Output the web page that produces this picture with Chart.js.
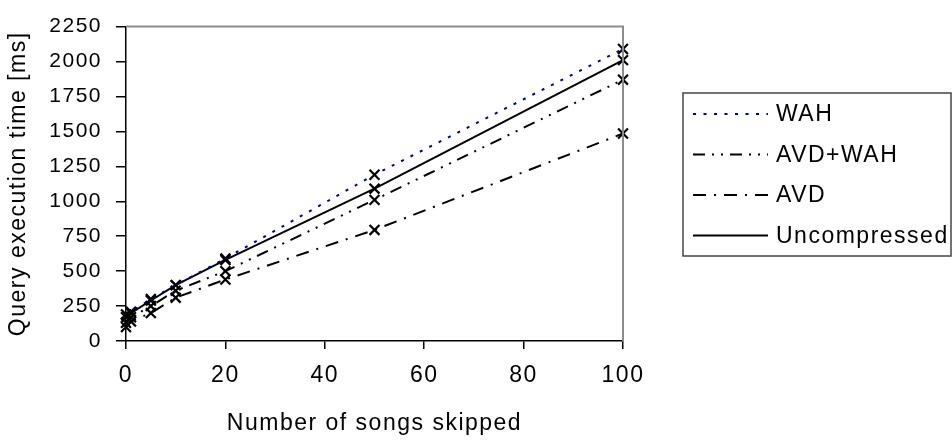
<!DOCTYPE html>
<html>
<head>
<meta charset="utf-8">
<script src="https://cdn.jsdelivr.net/npm/chart.js@4/dist/chart.umd.min.js"></script>
<style>
  html, body { margin: 0; padding: 0; background: #fff; }
  #wrap { width: 952px; height: 443px; }
</style>
</head>
<body>
<div id="wrap"><canvas id="chart"></canvas></div>
<script>
// values
const skipped = [0, 1, 5, 10, 20, 50, 100];
const wah = [190, 210, 300, 400, 590, 1190, 2090];
const avdWah = [130, 170, 250, 360, 500, 1010, 1870];
const avd = [100, 140, 200, 310, 440, 795, 1485];
const uncompressed = [170, 200, 290, 400, 580, 1090, 2010];
const seriesNames = ['WAH', 'AVD+WAH', 'AVD', 'Uncompressed'];
const xTicks = [0, 20, 40, 60, 80, 100];
const yTicks = [0, 250, 500, 750, 1000, 1250, 1500, 1750, 2000, 2250];

const FONT = '"Liberation Sans", Arial, sans-serif';
const toPoints = (ys) => skipped.map((x, i) => ({ x: x, y: ys[i] }));

function series(label, ys, color, dash) {
  return {
    label: label,
    data: toPoints(ys),
    showLine: true,
    borderColor: color,
    borderWidth: 2,
    borderDash: dash,
    pointStyle: 'crossRot',
    pointRadius: 7,
    pointBorderColor: '#000',
    pointBorderWidth: 2.2,
    clip: false
  };
}

// letter spacing like the original export, plus frame and legend box
const excelLook = {
  id: 'excelLook',
  beforeLayout(chart) { chart.ctx.letterSpacing = '1.5px'; },
  beforeDraw(chart) { chart.ctx.letterSpacing = '1.5px'; },
  afterDraw(chart) {
    const ctx = chart.ctx;
    const a = chart.chartArea;
    ctx.save();
    ctx.strokeStyle = '#8c8c8c';
    ctx.lineWidth = 2;
    ctx.beginPath();
    ctx.moveTo(a.left, a.top);
    ctx.lineTo(a.right, a.top);
    ctx.lineTo(a.right, a.bottom);
    ctx.stroke();

    // legend
    ctx.strokeStyle = '#444';
    ctx.lineWidth = 1.5;
    ctx.strokeRect(683, 93, 268, 163);
    ctx.font = '23px ' + FONT;
    ctx.fillStyle = '#000';
    ctx.textBaseline = 'middle';
    chart.data.datasets.forEach((ds, i) => {
      const y = 114 + i * 40.5;
      ctx.strokeStyle = ds.borderColor;
      ctx.lineWidth = 2;
      ctx.setLineDash(ds.borderDash || []);
      ctx.beginPath();
      ctx.moveTo(693, y);
      ctx.lineTo(768, y);
      ctx.stroke();
      ctx.setLineDash([]);
      ctx.fillText(ds.label, 776, y + 1);
    });
    ctx.restore();
  }
};

new Chart(document.querySelector('#chart').getContext('2d'), {
  type: 'scatter',
  data: {
    datasets: [
      series(seriesNames[0], wah, '#000080', [3, 7.5]),
      series(seriesNames[1], avdWah, '#000', [12, 7, 2, 7, 2, 7]),
      series(seriesNames[2], avd, '#000', [13, 8, 2, 8]),
      series(seriesNames[3], uncompressed, '#000', [])
    ]
  },
  options: {
    responsive: true,
    maintainAspectRatio: false,
    animation: false,
    layout: { padding: { top: 14, right: 329, left: 0, bottom: 0 } },
    plugins: {
      legend: { display: false },
      tooltip: { enabled: false }
    },
    scales: {
      x: {
        type: 'linear',
        min: 0,
        max: 100,
        afterBuildTicks: (s) => { s.ticks = xTicks.map(v => ({ value: v })); },
        afterFit: (s) => { s.height = 102; },
        ticks: {
          color: '#000',
          font: { family: FONT, size: 23 },
          padding: 13,
          callback: (v) => String(v)
        },
        grid: { drawOnChartArea: false, tickLength: 8, color: '#000', lineWidth: 1.5 },
        border: { color: '#000', width: 1.5 },
        title: {
          display: true,
          text: 'Number of songs skipped',
          color: '#000',
          font: { family: FONT, size: 23 },
          padding: { top: 0, bottom: 6 }
        }
      },
      y: {
        min: 0,
        max: 2250,
        afterBuildTicks: (s) => { s.ticks = yTicks.map(v => ({ value: v })); },
        afterFit: (s) => { s.width = 126; },
        ticks: {
          color: '#000',
          font: { family: FONT, size: 21 },
          padding: 14,
          callback: (v) => String(v)
        },
        grid: { drawOnChartArea: false, tickLength: 10, color: '#000', lineWidth: 1.5 },
        border: { color: '#000', width: 1.5 },
        title: {
          display: true,
          text: 'Query execution time [ms]',
          color: '#000',
          font: { family: FONT, size: 23 },
          padding: { top: 5, bottom: 0 }
        }
      }
    }
  },
  plugins: [excelLook]
});
</script>
</body>
</html>
